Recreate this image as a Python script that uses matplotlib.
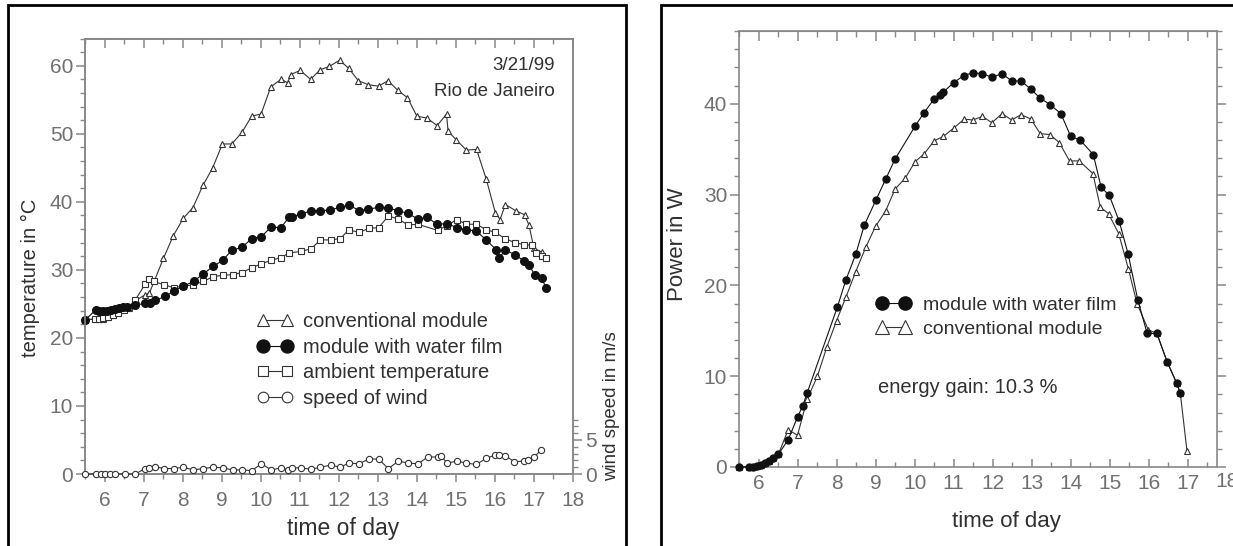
"""
Module temperature and power, conventional vs. water film (Rio de Janeiro, 3/21/99)
"""
import numpy as np
import matplotlib.pyplot as plt
from matplotlib.patches import Rectangle
from matplotlib.ticker import MultipleLocator, FixedLocator

plt.rcParams['font.family'] = ['Liberation Sans', 'DejaVu Sans']

# ---- left panel: temperatures (deg C) and wind speed (m/s)
conv_t = [5.5, 5.75, 5.87, 5.97, 6.1, 6.23, 6.35, 6.5, 6.62, 6.8, 7.03, 7.15, 7.51, 7.76,
          8.02, 8.26, 8.52, 8.77, 9.02, 9.26, 9.52, 9.77, 10.01, 10.26, 10.52, 10.69, 10.77,
          11.01, 11.28, 11.52, 11.76, 12.02, 12.26, 12.5, 12.76, 13.02, 13.26, 13.51, 13.76,
          14.0, 14.26, 14.52, 14.76, 14.8, 15.01, 15.27, 15.53, 15.78, 16.01, 16.13, 16.27,
          16.53, 16.76, 16.87, 17.0, 17.2]
conv_temp = [22.6, 22.8, 22.8, 22.8, 23.0, 23.3, 23.8, 24.2, 24.4, 25.5, 26.3, 26.6, 31.7, 35.0,
             37.6, 39.1, 42.4, 45.0, 48.5, 48.5, 50.2, 52.6, 52.9, 56.9, 58.0, 57.5, 58.7,
             59.3, 58.0, 59.4, 59.9, 60.8, 59.6, 57.8, 57.2, 57.0, 57.8, 56.4, 55.3,
             52.6, 52.3, 51.2, 52.9, 50.4, 49.1, 47.6, 47.7, 43.3, 38.4, 37.4, 39.6,
             38.7, 38.1, 36.6, 33.2, 32.6]

film_t = [5.5, 5.77, 5.87, 5.97, 6.07, 6.17, 6.27, 6.37, 6.47, 6.57, 6.79, 7.04, 7.17, 7.3,
          7.55, 7.78, 8.02, 8.28, 8.53, 8.78, 9.03, 9.26, 9.52, 9.77, 10.02, 10.27, 10.52,
          10.72, 10.8, 11.03, 11.3, 11.53, 11.78, 12.03, 12.27, 12.53, 12.76, 13.02, 13.27,
          13.52, 13.77, 14.02, 14.27, 14.52, 14.77, 15.03, 15.27, 15.52, 15.78, 16.04, 16.11,
          16.27, 16.52, 16.75, 16.87, 17.03, 17.2, 17.31]
film_temp = [22.6, 24.1, 24.0, 24.0, 24.0, 24.1, 24.2, 24.4, 24.5, 24.5, 24.8, 25.1, 25.2, 25.5,
             26.1, 26.9, 27.6, 28.3, 29.4, 30.5, 31.4, 32.9, 33.3, 34.6, 34.9, 36.3, 36.2,
             37.7, 37.8, 38.2, 38.7, 38.7, 38.8, 39.2, 39.5, 38.7, 38.9, 39.2, 39.1,
             38.7, 38.3, 37.5, 37.7, 36.7, 36.8, 36.2, 35.9, 35.7, 34.4, 32.9, 31.8,
             32.9, 32.2, 31.3, 30.7, 29.2, 28.8, 27.3]

amb_t = [5.5, 5.75, 5.87, 5.97, 6.1, 6.23, 6.35, 6.5, 6.62, 6.79, 7.04, 7.14, 7.27, 7.52,
         7.77, 8.02, 8.27, 8.53, 8.78, 9.03, 9.28, 9.52, 9.77, 10.02, 10.27, 10.52, 10.73,
         11.03, 11.29, 11.53, 11.79, 12.04, 12.26, 12.52, 12.77, 13.02, 13.27, 13.52, 13.77,
         14.03, 14.53, 14.77, 15.02, 15.27, 15.52, 15.78, 16.01, 16.26, 16.51, 16.75, 16.95,
         17.05, 17.2, 17.32]
amb_temp = [22.6, 22.8, 22.8, 22.9, 23.0, 23.3, 23.7, 24.1, 24.5, 25.6, 27.9, 28.7, 28.3, 27.8,
            27.4, 27.6, 27.8, 28.3, 29.0, 29.2, 29.3, 29.6, 30.3, 30.9, 31.4, 31.8, 32.5,
            32.7, 33.1, 34.4, 34.4, 34.6, 35.9, 35.5, 36.1, 36.2, 37.9, 37.5, 36.6,
            36.7, 35.8, 36.5, 37.4, 36.7, 36.7, 35.9, 35.5, 34.6, 34.0, 33.7, 33.6,
            32.5, 32.1, 31.7]

wind_t = [5.5, 5.78, 5.9, 6.0, 6.13, 6.28, 6.53, 6.79, 7.04, 7.14, 7.29, 7.52, 7.77, 8.02,
          8.27, 8.53, 8.78, 9.03, 9.28, 9.52, 9.77, 10.02, 10.27, 10.52, 10.7, 10.8, 11.03,
          11.29, 11.53, 11.79, 12.04, 12.26, 12.52, 12.77, 13.02, 13.27, 13.53, 13.78, 14.03,
          14.28, 14.53, 14.62, 14.77, 15.03, 15.27, 15.52, 15.78, 16.01, 16.1, 16.26, 16.5,
          16.74, 16.86, 17.01, 17.19]
wind_speed = [0, 0, 0, 0, 0, 0, 0, 0, 0.8, 0.9, 1.1, 0.8, 0.8, 1.0,
              0.6, 0.8, 1.0, 0.9, 0.6, 0.6, 0.5, 1.5, 0.6, 0.9, 0.6, 0.9, 0.9,
              0.7, 1.0, 1.3, 1.0, 1.6, 1.5, 2.2, 2.2, 0.8, 1.9, 1.6, 1.5,
              2.5, 2.5, 2.7, 1.6, 1.9, 1.6, 1.4, 2.3, 2.8, 2.8, 2.7, 1.8,
              1.9, 2.1, 2.5, 3.6]

# ---- right panel: power (W)
pw_film_t = [5.5, 5.76, 5.87, 5.97, 6.06, 6.17, 6.28, 6.38, 6.51, 6.76, 7.0, 7.13, 7.25,
             8.02, 8.24, 8.49, 8.71, 9.01, 9.26, 9.5, 10.01, 10.24, 10.5, 10.64, 10.74,
             11.0, 11.26, 11.49, 11.74, 11.98, 12.24, 12.49, 12.73, 12.98, 13.22, 13.47,
             13.75, 14.0, 14.24, 14.58, 14.78, 14.99, 15.24, 15.47, 15.72, 15.96, 16.21,
             16.47, 16.72, 16.81]
pw_film = [0, 0, 0, 0.1, 0.2, 0.4, 0.7, 1.0, 1.4, 3.0, 5.5, 6.7, 8.2,
           17.6, 20.6, 23.4, 26.6, 29.4, 31.7, 33.9, 37.5, 39.0, 40.5, 41.0, 41.3,
           42.3, 43.1, 43.4, 43.3, 42.9, 43.3, 42.5, 42.5, 41.6, 40.6, 39.9,
           38.9, 36.4, 36.0, 34.4, 30.8, 29.9, 27.1, 23.5, 18.4, 14.7, 14.7,
           11.6, 9.2, 8.1]

pw_conv_t = [5.5, 5.76, 5.87, 5.97, 6.06, 6.17, 6.28, 6.38, 6.51, 6.76, 7.0, 7.25, 7.51,
             7.75, 8.0, 8.24, 8.49, 8.75, 9.0, 9.26, 9.5, 9.76, 10.01, 10.25, 10.5, 10.74,
             11.0, 11.27, 11.49, 11.74, 11.98, 12.24, 12.49, 12.73, 12.98, 13.22, 13.47,
             13.71, 13.97, 14.22, 14.57, 14.76, 14.97, 15.23, 15.48, 15.7, 15.99, 16.21,
             16.47, 16.72, 16.81, 16.98]
pw_conv = [0, 0, 0, 0.1, 0.2, 0.4, 0.7, 1.0, 1.4, 4.1, 3.5, 7.5, 10.0,
           13.2, 16.1, 18.7, 21.5, 24.2, 26.5, 28.2, 30.6, 31.8, 33.6, 34.5, 35.9, 36.4,
           37.3, 38.3, 38.2, 38.6, 37.9, 38.9, 38.2, 38.8, 38.3, 36.7, 36.6,
           35.7, 33.7, 33.7, 32.3, 28.6, 27.9, 25.7, 21.8, 18.0, 15.1, 14.7,
           11.6, 9.2, 8.1, 1.8]

TICK_C = '#707070'
LAB_C = '#303030'
SPINE_C = '#888888'
LINE_C = '#333333'
W, H = 1233, 546


def style_axes(ax, bottom_dir, xpad):
    for s in ax.spines.values():
        s.set_color(SPINE_C)
        s.set_linewidth(1.2)
    ax.xaxis.set_major_locator(MultipleLocator(1))
    ax.xaxis.set_minor_locator(MultipleLocator(0.5))
    ax.tick_params(axis='x', which='both', bottom=True, top=False, direction=bottom_dir,
                   color=SPINE_C, labelcolor=TICK_C, labelsize=15, pad=xpad)
    ax.tick_params(axis='x', which='major', length=6, width=1.1)
    ax.tick_params(axis='x', which='minor', length=3.5, width=1.0)
    ax.tick_params(axis='y', which='both', left=True, right=True, direction='out',
                   color=SPINE_C, labelcolor=TICK_C, labelsize=15, pad=2)
    ax.tick_params(axis='y', which='major', length=6.5, width=1.1)
    ax.tick_params(axis='y', which='minor', length=3.5, width=1.0)
    # inward ticks along the top
    top = ax.secondary_xaxis('top')
    top.xaxis.set_major_locator(MultipleLocator(1))
    top.xaxis.set_minor_locator(MultipleLocator(0.5))
    top.tick_params(axis='x', which='both', direction='in', labeltop=False, color=SPINE_C)
    top.tick_params(axis='x', which='major', length=7, width=1.1)
    top.tick_params(axis='x', which='minor', length=4, width=1.0)
    top.spines['top'].set_color(SPINE_C)


fig = plt.figure(figsize=(W / 100, H / 100), dpi=100)

# frames around the two panels
fig.patches.append(Rectangle((8 / W, -0.05), 618 / W, 1.05 - 5 / H, transform=fig.transFigure,
                             fill=False, edgecolor='black', linewidth=2))
fig.patches.append(Rectangle((661 / W, -0.05), 0.5, 1.05 - 5 / H, transform=fig.transFigure,
                             fill=False, edgecolor='black', linewidth=2))

# ---------------- left panel
ax = fig.add_axes([85 / W, 1 - 474 / H, 488 / W, 435.5 / H])
style_axes(ax, 'out', 6)
ax.set_xlim(5.5, 18)
ax.set_ylim(0, 64)
ax.yaxis.set_major_locator(MultipleLocator(10))
ax.yaxis.set_minor_locator(MultipleLocator(2))
ax.tick_params(axis='y', labelright=False)

h1, = ax.plot(conv_t, conv_temp, color=LINE_C, lw=0.8, marker='^', ms=5, mfc='white',
              mec=LINE_C, mew=0.8, label='conventional module', zorder=3, clip_on=False)
h3, = ax.plot(amb_t, amb_temp, color=LINE_C, lw=0.8, marker='s', ms=4.3, mfc='white',
              mec=LINE_C, mew=0.8, label='ambient temperature', zorder=3, clip_on=False)
h2, = ax.plot(film_t, film_temp, color='#111111', lw=0.8, marker='o', ms=5.5, mfc='#111111',
              mec='#111111', label='module with water film', zorder=4, clip_on=False)

ax2 = ax.twinx()
ax2.set_ylim(0, 64)
ax2.yaxis.set_major_locator(FixedLocator([0, 5]))
ax2.yaxis.set_minor_locator(FixedLocator(np.arange(0, 9, 1)))
ax2.tick_params(axis='y', which='both', direction='out', color=SPINE_C, labelcolor=TICK_C,
                labelsize=15, pad=2)
ax2.tick_params(axis='y', which='major', length=6.5, width=1.1)
ax2.tick_params(axis='y', which='minor', length=3.5, width=1.0)
for s in ax2.spines.values():
    s.set_color(SPINE_C)
    s.set_linewidth(1.2)
h4, = ax2.plot(wind_t, wind_speed, color=LINE_C, lw=0.8, marker='o', ms=4.5, mfc='white',
               mec=LINE_C, mew=0.8, label='speed of wind', zorder=3, clip_on=False)
ax2.set_ylabel('wind speed in m/s', fontsize=13.5, color=LAB_C)
ax2.yaxis.set_label_coords(1.062, 0.156)

ax.set_xlabel('time of day', fontsize=16.5, color=LAB_C)
ax.xaxis.set_label_coords(0.528, -0.098)
ax.set_ylabel('temperature in °C', fontsize=14.5, color=LAB_C)
ax.yaxis.set_label_coords(-0.092, 0.45)

ax.text(0.963, 0.937, '3/21/99', transform=ax.transAxes, ha='right', va='center',
        fontsize=13.5, color=LAB_C)
ax.text(0.963, 0.879, 'Rio de Janeiro', transform=ax.transAxes, ha='right', va='center',
        fontsize=13.5, color=LAB_C)

ax2.legend([h1, h2, h3, h4], [h.get_label() for h in (h1, h2, h3, h4)],
           loc='upper left', bbox_to_anchor=(0.352, 0.372), frameon=False, numpoints=2,
           handlelength=1.8, handletextpad=0.5, labelspacing=0.33, borderpad=0,
           borderaxespad=0, markerscale=1.7, prop={'size': 14.5}, labelcolor=LAB_C)

# ---------------- right panel
bx = fig.add_axes([739 / W, 1 - 467 / H, 478 / W, 436 / H])
style_axes(bx, 'in', 5)
bx.set_xlim(5.5, 17.75)
bx.set_ylim(0, 48)
bx.yaxis.set_major_locator(MultipleLocator(10))
bx.yaxis.set_minor_locator(MultipleLocator(2))
bx.tick_params(axis='y', labelright=False)

g2, = bx.plot(pw_conv_t, pw_conv, color=LINE_C, lw=0.8, marker='^', ms=5, mfc='white',
              mec=LINE_C, mew=0.8, label='conventional module', zorder=3, clip_on=False)
g1, = bx.plot(pw_film_t, pw_film, color='#111111', lw=0.8, marker='o', ms=5, mfc='#111111',
              mec='#111111', label='module with water film', zorder=4, clip_on=False)
# the "18" label sits just past the right spine, as in the original
bx.text(18, -0.012, '18', transform=bx.get_xaxis_transform(), ha='center', va='top',
        fontsize=15, color=TICK_C, clip_on=False)

bx.set_xlabel('time of day', fontsize=16, color=LAB_C)
bx.xaxis.set_label_coords(0.56, -0.1)
bx.set_ylabel('Power in W', fontsize=16, color=LAB_C)
bx.yaxis.set_label_coords(-0.107, 0.51)

bx.legend([g1, g2], [g1.get_label(), g2.get_label()], loc='upper left',
          bbox_to_anchor=(0.287, 0.392), frameon=False, numpoints=2, handlelength=1.8,
          handletextpad=0.6, labelspacing=0.33, borderpad=0, borderaxespad=0, markerscale=1.9,
          prop={'size': 14}, labelcolor=LAB_C)
bx.text(0.291, 0.183, 'energy gain: 10.3 %', transform=bx.transAxes, ha='left', va='center',
        fontsize=14.5, color=LAB_C)

fig.savefig('out.png', dpi=100)
